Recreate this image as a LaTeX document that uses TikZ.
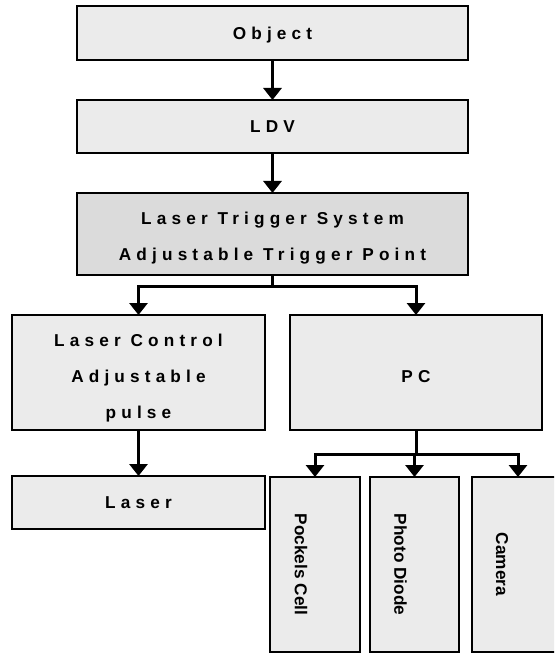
\documentclass[tikz,border=0pt]{standalone}
\usepackage{fontspec}
\setmainfont{Liberation Sans}
\newfontfamily\spaced[LetterSpace=30]{Liberation Sans}
\usetikzlibrary{positioning,arrows.meta}

\begin{document}
\begin{tikzpicture}[x=1pt, y=1pt, node distance=40pt,
  box/.style={draw, line width=2.5pt, fill=black!8, outer sep=0pt, inner sep=0pt, align=center, font=\spaced\bfseries\fontsize{17.2}{36}\selectfont},
  tag/.style={rotate=-90, inner sep=0pt, font=\bfseries\fontsize{17.2}{20}\selectfont},
  wire/.style={line width=3pt},
  flow/.style={wire, -{Triangle[width=18pt,length=12pt]}}]
\clip (-272.5,33) rectangle (281.5,-622);
\node[box, minimum width=391pt, minimum height=54pt, text height=16.5pt] (obj) {Object};
\node[box, minimum width=391pt, minimum height=53pt, below=of obj] (ldv) {LDV};
\node[box, fill=black!14, minimum width=391pt, minimum height=82pt, below=of ldv] (trig) {\rule{0pt}{20pt}Laser Trigger System\\Adjustable Trigger Point};
\node[box, minimum width=253pt, minimum height=115pt, below=40pt of trig.south west, anchor=north west, xshift=-65pt] (ctrl) {\rule{0pt}{23pt}Laser Control\\Adjustable\\pulse};
\node[box, minimum width=252pt, minimum height=115pt, text height=20.5pt, right=25pt of ctrl] (pc) {PC};
\node[box, minimum width=253pt, minimum height=53pt, below=46pt of ctrl] (laser) {Laser};
\node[box, minimum width=90pt, minimum height=175pt, below=47pt of pc.south west, anchor=north west, xshift=-20pt] (pockels) {};
\node[box, minimum width=89pt, minimum height=175pt, right=10pt of pockels] (diode) {};
\node[box, minimum width=92pt, minimum height=175pt, right=13pt of diode] (camera) {};
\node[tag] (pockelstxt) at ([xshift=-14pt]pockels.center) {Pockels Cell};
\node[tag] (diodetxt) at ([xshift=-14pt]diode.center) {Photo Diode};
\node[tag] (cameratxt) at ([xshift=-16pt]camera.center) {Camera};
\draw[flow] (obj) -- (ldv); \draw[flow] (ldv) -- (trig);
\draw[wire] (trig.south) -- ++(0,-11) coordinate (fork);
\draw[flow] (fork) -| (ctrl); \draw[flow] (fork) -| (pc);
\draw[flow] (ctrl) -- (laser);
\draw[wire] (pc.south) -- ++(0,-24) coordinate (hub);
\draw[flow] (hub) -| (pockels); \draw[flow] (hub) -| (diode); \draw[flow] (hub) -| (camera);
\end{tikzpicture}
\end{document}
